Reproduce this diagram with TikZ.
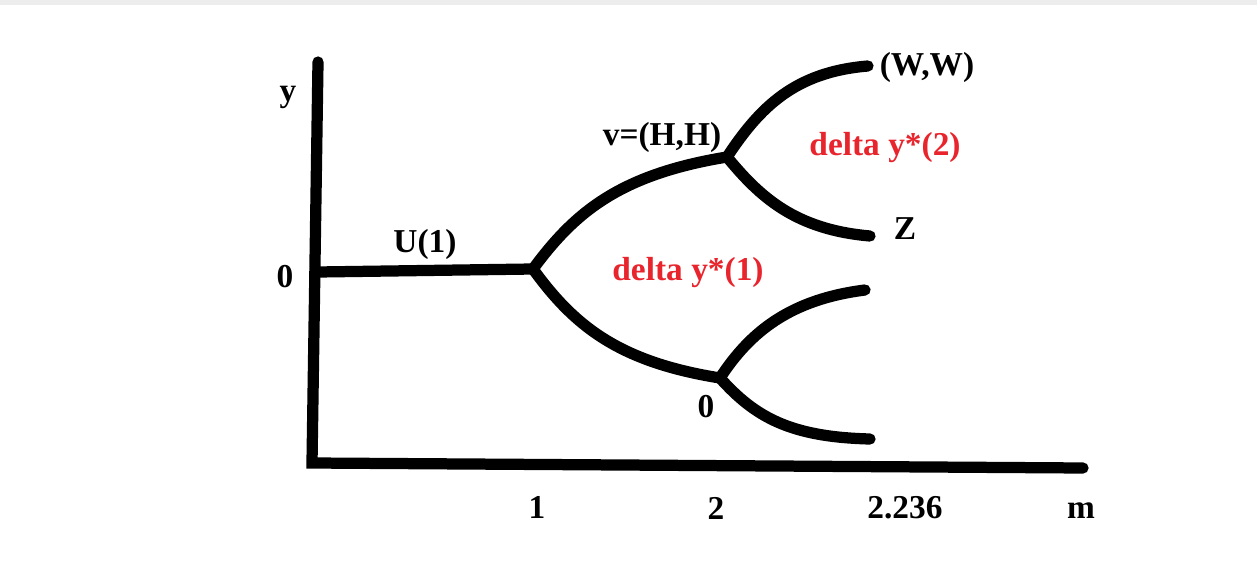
\documentclass[tikz,border=0pt]{standalone}
\usepackage{fontspec}
\setmainfont{Liberation Serif}
\usepackage{xcolor}
\usepackage{tikz}
\usetikzlibrary{positioning}
\definecolor{labelred}{RGB}{232,36,44}

\begin{document}
\begin{tikzpicture}[
  branch/.style={line width=6.4pt, line cap=round, line join=miter},
  lbl/.style={font=\fontsize{19}{22}\selectfont\bfseries, inner sep=0pt},
  redlbl/.style={lbl, text=labelred}
]
\useasboundingbox (0,0) rectangle (25.14,11.34);
% Frame strip
\fill[black!7] (0,11.24) rectangle (25.14,11.34);

% Axes
\coordinate (ytop) at (6.36,10.10);
\coordinate (orig) at (6.24,2.08);
\coordinate (xend) at (21.66,1.98);
\draw[branch] (ytop) -- (orig) -- (xend);

% Tree points
\coordinate (start) at (6.36,5.90);
\coordinate (A) at (10.66,5.96);
\coordinate (B) at (14.54,8.20);
\coordinate (C) at (14.40,3.78);
\coordinate (ww) at (17.36,10.02);
\coordinate (zz) at (17.40,6.62);
\coordinate (cup) at (17.30,5.54);
\coordinate (cdown) at (17.40,2.56);

% Branches
\draw[branch] (start) -- (A);
\draw[branch] (A) .. controls (11.5,7.1) and (12.4,7.85) .. (B);
\draw[branch] (A) .. controls (11.5,4.8) and (12.4,4.1) .. (C);
\draw[branch] (B) .. controls (15.2,9.2) and (15.9,9.9) .. (ww);
\draw[branch] (B) .. controls (15.2,7.4) and (15.9,6.75) .. (zz);
\draw[branch] (C) .. controls (15.0,4.7) and (15.8,5.35) .. (cup);
\draw[branch] (C) .. controls (15.1,3.0) and (15.8,2.6) .. (cdown);

% Labels
\node[lbl] (ylab) at (5.76,9.40) {y};
\node[lbl] (zero) at (5.70,5.80) {0};
\node[lbl] (ulab) at (8.50,6.46) {U(1)};
\node[lbl] (vlab) at (13.24,8.60) {v=(H,H)};
\node[lbl] (wlab) at (18.54,10.00) {(W,W)};
\node[lbl] (zlab) at (18.10,6.76) {Z};
\node[lbl] (czero) at (14.12,3.20) {0};
\node[redlbl] (dy2) at (17.70,8.38) {delta y*(2)};
\node[redlbl] (dy1) at (13.76,5.88) {delta y*(1)};

% Ticks
\node[lbl] (one) at (10.74,1.20) {1};
\node[lbl] (two) at (14.32,1.18) {2};
\node[lbl] (root) at (18.10,1.18) {2.236};
\node[lbl] (mlab) at (21.62,1.12) {m};

\end{tikzpicture}
\end{document}
